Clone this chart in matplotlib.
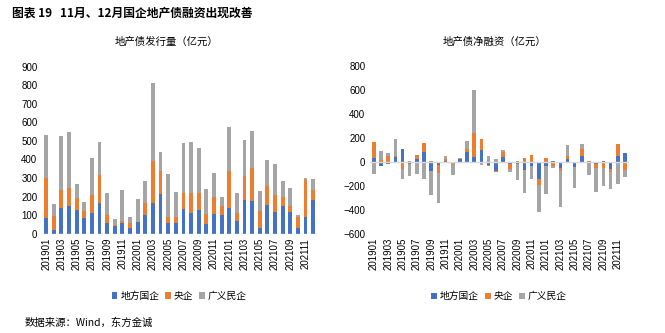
import matplotlib
matplotlib.use('Agg')
import matplotlib.pyplot as plt
import numpy as np

plt.rcParams['font.family'] = ['Noto Sans CJK SC', 'DejaVu Sans']

## DATA ##

months = ['%d%02d' % (y, m) for y in (2019, 2020, 2021) for m in range(1, 13)]
series_names = ['地方国企', '央企', '广义民企']

# 地产债发行量（亿元）
issue_local = [85, 22, 139, 149, 128, 85, 112, 167, 58, 41, 59, 31,
               63, 101, 167, 216, 58, 58, 133, 112, 128, 52, 106, 101,
               139, 68, 182, 176, 31, 155, 117, 149, 117, 31, 90, 182]
issue_central = [215, 75, 97, 98, 65, 39, 97, 152, 43, 8, 11, 28,
                 0, 66, 225, 122, 32, 32, 88, 109, 93, 54, 92, 48,
                 199, 44, 129, 179, 91, 102, 92, 49, 32, 59, 200, 54]
issue_private = [233, 63, 291, 302, 75, 49, 200, 176, 120, 30, 166, 31,
                 124, 117, 422, 103, 232, 137, 269, 274, 242, 135, 130, 49,
                 238, 108, 195, 199, 108, 141, 167, 86, 98, 11, 11, 59]

# 地产债净融资（亿元）
net_local = [33, -33, -15, 42, 108, -17, 25, 83, -75, -25, 3, 0,
             25, 83, 42, 100, -25, -75, 42, -17, -17, -67, -33, -142,
             -33, 8, -50, 25, -42, 50, 0, -17, 8, -58, 50, 75]
net_central = [134, 17, 50, 8, -58, 8, 33, 75, 8, -67, 17, -17,
               0, 25, 200, 92, -8, -8, 42, -42, 8, 33, 58, -50,
               33, -33, -25, 25, 0, 58, 8, -33, -50, -25, 100, -67]
net_private = [-100, 75, 25, 142, -84, -100, -100, -142, -200, -250, 25, -91,
               8, 67, 358, -25, 50, 25, 17, -25, -133, -192, -108, -225,
               -233, -17, -300, 92, -175, 42, -108, -200, -150, -142, -183, -58]

colors = ['#4472C4', '#ED7D31', '#A5A5A5']
W, H = 665, 333


# stacked bars, positives upward and negatives downward (Excel style)
def stacked(ax, x, series, width):
    pos = np.zeros(len(x))
    neg = np.zeros(len(x))
    for vals, c, name in zip(series, colors, series_names):
        v = np.array(vals, dtype=float)
        bottom = np.where(v >= 0, pos, neg)
        ax.bar(x, v, width, bottom=bottom, color=c, label=name, linewidth=0)
        pos = pos + np.where(v >= 0, v, 0)
        neg = neg + np.where(v < 0, v, 0)


def style(ax, x):
    for s in ['top', 'right', 'left', 'bottom']:
        ax.spines[s].set_visible(False)
    ax.set_xticks(x[::2])
    ax.set_xticklabels(months[::2], rotation=90, fontsize=7, family=['Liberation Sans', 'DejaVu Sans'])
    ax.tick_params(axis='both', length=0, pad=3)
    for t in ax.get_yticklabels():
        t.set_fontsize(7)
        t.set_family(['Liberation Sans', 'DejaVu Sans'])


def legend(ax):
    ax.legend(loc='center', bbox_to_anchor=(0.5, -0.373), ncol=3, frameon=False,
              fontsize=7, handlelength=0.6, handleheight=0.6, handletextpad=0.3,
              columnspacing=0.6)


fig = plt.figure(figsize=(W / 100, H / 100), dpi=100)
x = np.arange(len(months))

# left: issuance
ax1 = fig.add_axes([41.5 / W, 1 - 233.7 / H, (317 - 41.5) / W, (233.7 - 66.7) / H])
stacked(ax1, x, [issue_local, issue_central, issue_private], 0.5)
ax1.set_xlim(-0.6, 35.5)
ax1.set_ylim(0, 900)
ax1.set_yticks(np.arange(0, 901, 100))
ax1.axhline(0, color='#D9D9D9', linewidth=1)
style(ax1, x)
legend(ax1)
fig.text(167 / W, 1 - 42 / H, '地产债发行量（亿元）', ha='center', va='center', fontsize=7.5)

# right: net financing
ax2 = fig.add_axes([369.5 / W, 1 - 233.7 / H, (628.5 - 369.5) / W, (233.7 - 66) / H])
stacked(ax2, x, [net_local, net_central, net_private], 0.5)
ax2.set_xlim(-0.6, 35.5)
ax2.set_ylim(-600, 800)
ax2.set_yticks(np.arange(-600, 801, 200))
ax2.axhline(0, color='#D9D9D9', linewidth=1)
style(ax2, x)
legend(ax2)
fig.text(495 / W, 1 - 42 / H, '地产债净融资（亿元）', ha='center', va='center', fontsize=7.5)

# title and source
fig.text(12 / W, 1 - 13 / H, '图表 19   11月、12月国企地产债融资出现改善', ha='left', va='center',
         fontsize=8.5, fontweight='bold')
fig.text(25 / W, 1 - 323 / H, '数据来源：Wind，东方金诚', ha='left', va='center', fontsize=7.5)

fig.savefig('out.png', dpi=100)
